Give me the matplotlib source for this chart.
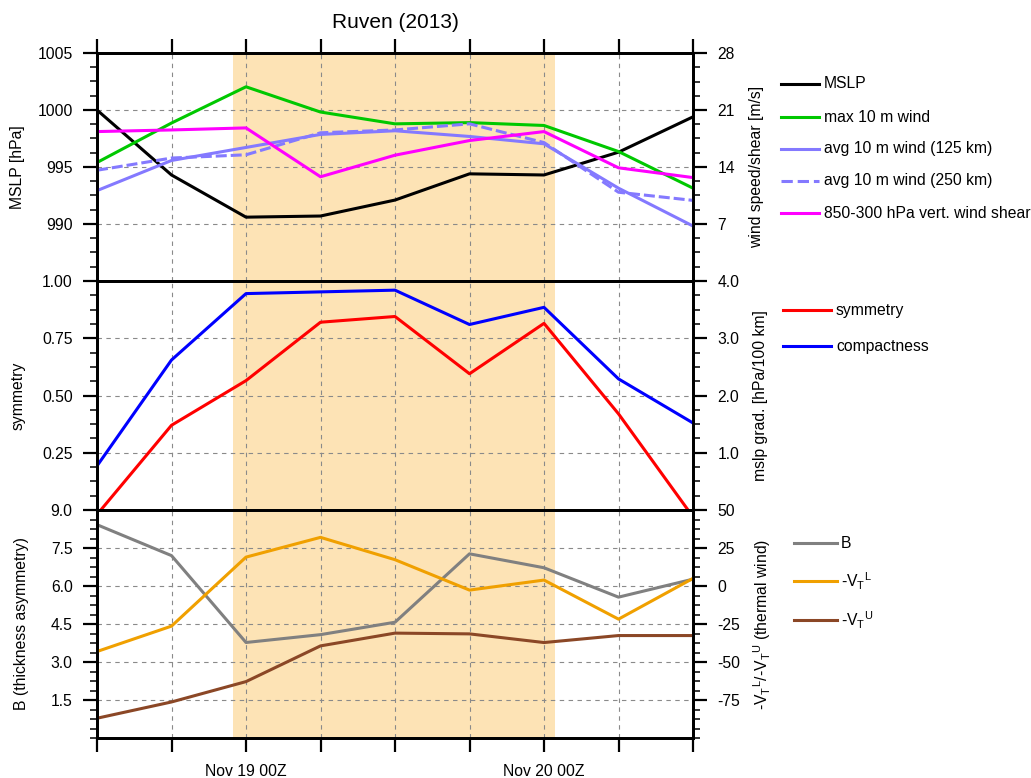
import matplotlib
matplotlib.use('Agg')
import matplotlib.pyplot as plt
from matplotlib.ticker import MultipleLocator, FixedLocator, FixedFormatter
from matplotlib.lines import Line2D

plt.rcParams['font.family'] = ['Liberation Sans', 'DejaVu Sans']
plt.rcParams['mathtext.fontset'] = 'custom'
plt.rcParams['mathtext.rm'] = 'Liberation Sans'
plt.rcParams['mathtext.it'] = 'Liberation Sans:italic'
plt.rcParams['mathtext.bf'] = 'Liberation Sans:bold'
plt.rcParams['axes.unicode_minus'] = False

# ---------------- data ----------------
title = "Ruven (2013)"
time_index = [0, 1, 2, 3, 4, 5, 6, 7, 8]
time_labels = ['', '', 'Nov 19 00Z', '', '', '', 'Nov 20 00Z', '', '']
shade_start, shade_end = 1.83, 6.15

mslp = [1000.0, 994.3, 990.6, 990.7, 992.1, 994.4, 994.3, 996.3, 999.4]
max_wind = [14.55, 19.4, 23.85, 20.75, 19.3, 19.45, 19.1, 15.9, 11.4]
avg_wind_125 = [11.1, 14.8, 16.4, 18.0, 18.45, 17.75, 16.85, 11.4, 6.75]
avg_wind_250 = [13.6, 15.1, 15.5, 18.2, 18.55, 19.3, 17.0, 10.9, 9.9]
shear = [18.35, 18.55, 18.8, 12.8, 15.45, 17.25, 18.35, 13.9, 12.7]

symmetry = [-0.02, 0.37, 0.565, 0.82, 0.845, 0.595, 0.815, 0.42, -0.03]
compactness = [0.77, 2.62, 3.78, 3.81, 3.84, 3.24, 3.54, 2.29, 1.52]

B = [8.42, 7.2, 3.77, 4.08, 4.57, 7.27, 6.72, 5.56, 6.27]
vtl = [-43.1, -26.4, 19.0, 32.0, 17.3, -2.7, 3.9, -21.8, 5.0]
vtu = [-87.0, -76.3, -62.9, -39.4, -31.0, -31.5, -37.2, -32.6, -32.6]

top_left_ticks = [990, 995, 1000, 1005]
top_right_ticks = [7, 14, 21, 28]
mid_left_ticks = [0.25, 0.5, 0.75, 1.0]
mid_right_ticks = [1.0, 2.0, 3.0, 4.0]
bot_left_ticks = [1.5, 3.0, 4.5, 6.0, 7.5, 9.0]
bot_right_ticks = [-75, -50, -25, 0, 25, 50]

# ---------------- layout ----------------
W, H = 1031, 778
fig = plt.figure(figsize=(W / 100, H / 100), dpi=100)


def fx(px):
    return px / W


def fy(py):
    return 1 - py / H


L, R = 97, 693
panels = [(53, 281), (281, 510), (510, 738)]
axes, twins = [], []
for (t, b) in panels:
    ax = fig.add_axes([fx(L), fy(b), fx(R - L), (b - t) / H])
    tw = ax.twinx()
    axes.append(ax)
    twins.append(tw)

FS = 11.3
LW = 2.2
shade_color = '#fde3b5'
grid_kw = dict(color='#8a8a8a', ls=(0, (4, 4)), lw=0.8)

for ax, tw in zip(axes, twins):
    ax.set_xlim(0, 8)
    ax.axvspan(shade_start, shade_end, color=shade_color, lw=0, zorder=0)
    ax.xaxis.set_major_locator(FixedLocator(time_index))
    ax.grid(True, which='major', **grid_kw)
    for a in (ax, tw):
        for s in a.spines.values():
            s.set_linewidth(2.0)
        a.tick_params(which='major', direction='out', length=10, width=1.6,
                      pad=7.5, labelsize=FS)
        a.tick_params(which='minor', direction='out', length=5, width=1.1)

# x ticks per panel
axes[0].tick_params(axis='x', which='both', top=True, bottom=False,
                    labelbottom=False, labeltop=False)
axes[1].tick_params(axis='x', which='both', top=False, bottom=False,
                    labelbottom=False)
axes[2].tick_params(axis='x', which='both', top=False, bottom=True,
                    labelbottom=True, pad=9)
axes[2].xaxis.set_major_formatter(FixedFormatter(time_labels))


def set_y(a, lim, ticks, fmt, minor):
    a.set_ylim(*lim)
    a.yaxis.set_major_locator(FixedLocator(ticks))
    a.yaxis.set_major_formatter(FixedFormatter([fmt.format(v) for v in ticks]))
    a.yaxis.set_minor_locator(MultipleLocator(minor))


set_y(axes[0], (985, 1005), top_left_ticks, '{:.0f}', 1.25)
set_y(twins[0], (0, 28), top_right_ticks, '{:.0f}', 1.75)
set_y(axes[1], (0, 1), mid_left_ticks, '{:.2f}', 0.0625)
set_y(twins[1], (0, 4), mid_right_ticks, '{:.1f}', 0.25)
set_y(axes[2], (0, 9), bot_left_ticks, '{:.1f}', 0.375)
set_y(twins[2], (-100, 50), bot_right_ticks, '{:.0f}', 6.25)

# ---------------- data lines ----------------
c_green = '#00c800'
c_purple = '#8479ff'
l_mslp, = axes[0].plot(time_index, mslp, color='black', lw=LW)
l_max, = twins[0].plot(time_index, max_wind, color=c_green, lw=LW)
l_a125, = twins[0].plot(time_index, avg_wind_125, color=c_purple, lw=LW)
l_a250, = twins[0].plot(time_index, avg_wind_250, color=c_purple, lw=LW,
                        ls=(0, (3.6, 1.3)))
l_shear, = twins[0].plot(time_index, shear, color='#ff00ff', lw=LW)

l_sym, = axes[1].plot(time_index, symmetry, color='#ff0000', lw=LW)
l_comp, = twins[1].plot(time_index, compactness, color='#0000ff', lw=LW)

l_B, = axes[2].plot(time_index, B, color='#808080', lw=LW)
l_vtl, = twins[2].plot(time_index, vtl, color='#f0a000', lw=LW)
l_vtu, = twins[2].plot(time_index, vtu, color='#8b4726', lw=LW)

# ---------------- labels ----------------
def ylab(a, text, px):
    a.set_ylabel(text, fontsize=FS)
    a.yaxis.set_label_coords((px - L) / (R - L), 0.5)
    a.yaxis.label.set_va('center')
    a.yaxis.label.set_ha('center')


VTL = r'-V$_\mathrm{T}$$^\mathrm{L}$'
VTU = r'-V$_\mathrm{T}$$^\mathrm{U}$'

ylab(axes[0], 'MSLP [hPa]', 18)
ylab(axes[1], 'symmetry', 18)
ylab(axes[2], 'B (thickness asymmetry)', 22)
ylab(twins[0], 'wind speed/shear [m/s]', 757)
ylab(twins[1], 'mslp grad. [hPa/100 km]', 761)
ylab(twins[2], VTL + '/' + VTU + ' (thermal wind)', 762)

fig.text(fx(395), fy(28), title, fontsize=15, ha='center', va='baseline')

# ---------------- legends (manual, figure pixel coords) ----------------
def legend(items, x0, x1, xt, ys):
    for (line, label), y in zip(items, ys):
        fig.add_artist(Line2D([fx(x0), fx(x1)], [fy(y), fy(y)],
                              transform=fig.transFigure,
                              color=line.get_color(), lw=line.get_linewidth(),
                              ls=line.get_linestyle()))
        fig.text(fx(xt), fy(y), label, fontsize=FS, va='center', ha='left')


legend([(l_mslp, 'MSLP'), (l_max, 'max 10 m wind'),
        (l_a125, 'avg 10 m wind (125 km)'), (l_a250, 'avg 10 m wind (250 km)'),
        (l_shear, '850-300 hPa vert. wind shear')],
       781, 819, 824, [84, 117, 149, 181, 213])
legend([(l_sym, 'symmetry'), (l_comp, 'compactness')],
       783, 831, 836, [310, 346])
legend([(l_B, 'B'), (l_vtl, VTL), (l_vtu, VTU)],
       794, 837, 841, [543, 581, 620])

fig.savefig('out.png', dpi=100)
